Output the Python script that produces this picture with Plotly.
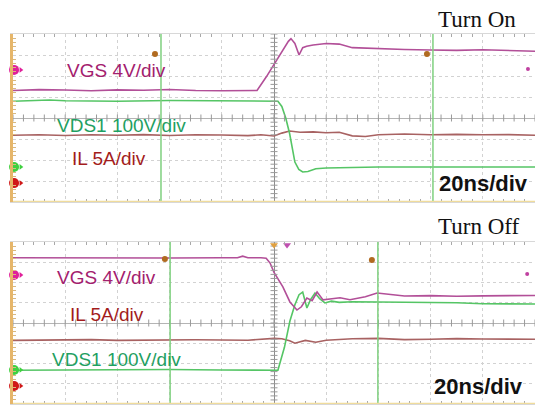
import plotly.graph_objects as go

# ---------------- data (time in ns, amplitude in screen divisions) -------------
# Turn On panel
on_vgs_t = [-100, -90, -80, -70, -60, -50, -40, -30, -20, -10, -6.5, -3, 0, 3, 5.5, 6.5, 8, 9.6, 11, 12.5, 15, 20, 25, 30, 40, 50, 60, 70, 80, 90, 100]
on_vgs_v = [1.31, 1.35, 1.33, 1.30, 1.34, 1.32, 1.36, 1.31, 1.30, 1.31, 1.31, 1.95, 2.55, 3.15, 3.65, 3.78, 3.55, 3.0, 3.35, 3.42, 3.48, 3.55, 3.52, 3.35, 3.30, 3.26, 3.24, 3.22, 3.25, 3.20, 3.18]
on_vds_t = [-100, -86, -80, -60, -40, -20, -10, 0, 1.5, 3, 4.5, 6, 7, 8, 9.5, 11, 13, 16, 20, 30, 40, 60, 80, 100]
on_vds_v = [0.80, 0.86, 0.82, 0.80, 0.83, 0.81, 0.81, 0.81, 0.80, 0.55, 0.0, -0.75, -1.4, -2.1, -2.45, -2.57, -2.55, -2.42, -2.38, -2.36, -2.33, -2.33, -2.32, -2.33]
on_il_t = [-100, -90, -80, -70, -60, -50, -40, -30, -20, -10, -5, 0, 3, 6, 10, 15, 20, 25, 30, 35, 40, 50, 60, 70, 80, 90, 100]
on_il_v = [-0.82, -0.80, -0.83, -0.80, -0.82, -0.79, -0.83, -0.80, -0.81, -0.84, -0.80, -0.86, -0.72, -0.62, -0.68, -0.66, -0.70, -0.68, -0.85, -0.88, -0.80, -0.76, -0.80, -0.78, -0.80, -0.79, -0.82]

# Turn Off panel
off_vgs_t = [-100, -80, -60, -40, -20, -14, -12, -10, -5, -3, -1.5, 0, 3.4, 6.1, 8.8, 10.5, 12.6, 14.6, 16.5, 18.8, 22.2, 25.3, 29.1, 35, 39.5, 44.4, 50, 60, 70, 80, 90, 100]
off_vgs_v = [3.22, 3.21, 3.23, 3.21, 3.22, 3.22, 3.30, 3.22, 3.22, 3.20, 2.96, 2.50, 1.78, 1.04, 0.64, 0.80, 1.23, 1.10, 1.53, 1.14, 1.20, 1.25, 1.15, 1.30, 1.48, 1.40, 1.33, 1.35, 1.32, 1.34, 1.35, 1.36]
off_vds_t = [-100, -80, -60, -40, -20, -5, 0, 1.5, 4, 6.1, 8, 9.6, 11, 12.6, 14, 15.7, 17.5, 19.5, 22, 25, 30, 40, 50, 60, 70, 80, 90, 100]
off_vds_v = [-2.33, -2.31, -2.32, -2.30, -2.32, -2.32, -2.33, -2.33, -1.2, 0.1, 0.9, 1.4, 1.53, 0.74, 1.15, 1.48, 1.2, 0.99, 1.08, 1.02, 1.05, 1.04, 1.03, 1.02, 1.0, 0.95, 0.94, 0.94]
off_il_t = [-100, -90, -80, -70, -60, -50, -40, -30, -20, -10, 0, 3, 6, 8, 12, 16, 20, 25, 30, 40, 50, 60, 70, 80, 90, 100]
off_il_v = [-0.86, -0.84, -0.85, -0.82, -0.86, -0.84, -0.85, -0.83, -0.84, -0.85, -0.76, -0.78, -0.88, -1.0, -0.86, -0.95, -0.85, -0.80, -0.78, -0.76, -0.82, -0.80, -0.77, -0.79, -0.78, -0.80]

# channel reference levels (left-side markers) [VGS, VDS, IL]
on_ref = [2.29, -2.33, -3.10]
off_ref = [2.37, -2.32, -3.11]
# green cursor lines (ns)
on_cursors = [-43.3, 60.9]
off_cursors = [-39.8, 39.8]

labels = ["VGS 4V/div", "VDS1 100V/div", "IL 5A/div"]
timebase = "20ns/div"
titles = ["Turn On", "Turn Off"]

# ---------------- styling -------------
C_VGS, C_VDS, C_IL = "#b24f98", "#55c565", "#a86262"
T_VGS, T_VDS, T_IL = "#a3206e", "#1fa062", "#a31c1c"
REF_COL = ["#e0209a", "#40d040", "#d01818"]
FONT = "Liberation Sans, Arial, sans-serif"

fig = go.Figure()

def add_panel(xa, ya, vgs, vds, il, ref, cursors):
    xr, yr = xa.replace("axis", ""), ya.replace("axis", "")
    for (t, v), col in zip([il, vds, vgs], [C_IL, C_VDS, C_VGS]):
        fig.add_trace(go.Scatter(x=t, y=v, mode="lines", line=dict(color=col, width=1.6),
                                 xaxis=xr, yaxis=yr, showlegend=False, hoverinfo="skip"))
    # centre-line ticks
    tx = [i * 4 - 100 for i in range(51)]
    fig.add_trace(go.Scatter(x=tx, y=[0] * len(tx), mode="markers",
                             marker=dict(symbol="line-ns", size=5, line=dict(color="#9a9a9a", width=1)),
                             xaxis=xr, yaxis=yr, showlegend=False, hoverinfo="skip"))
    ty = [i * 0.2 - 4 for i in range(41)]
    fig.add_trace(go.Scatter(x=[0] * len(ty), y=ty, mode="markers",
                             marker=dict(symbol="line-ew", size=5, line=dict(color="#9a9a9a", width=1)),
                             xaxis=xr, yaxis=yr, showlegend=False, hoverinfo="skip"))
    for c in cursors:
        fig.add_shape(type="line", xref=xr, yref=yr, x0=c, x1=c, y0=-4, y1=4,
                      line=dict(color="#7fd07f", width=1.5))
    fig.add_shape(type="line", xref=xr, yref=yr, x0=-100, x1=100, y0=-4, y1=-4,
                  line=dict(color="#f0dc9c", width=2.5))
    # reference markers at left
    fig.add_trace(go.Scatter(x=[-99.6] * 3, y=ref, mode="markers",
                             marker=dict(symbol="circle", size=10, color=REF_COL),
                             xaxis=xr, yaxis=yr, showlegend=False, hoverinfo="skip", cliponaxis=False))
    fig.add_trace(go.Scatter(x=[-97.0] * 3, y=ref, mode="markers",
                             marker=dict(symbol="triangle-right", size=5, color=REF_COL),
                             xaxis=xr, yaxis=yr, showlegend=False, hoverinfo="skip", cliponaxis=False))

add_panel("xaxis", "yaxis", (on_vgs_t, on_vgs_v), (on_vds_t, on_vds_v), (on_il_t, on_il_v), on_ref, on_cursors)
add_panel("xaxis2", "yaxis2", (off_vgs_t, off_vgs_v), (off_vds_t, off_vds_v), (off_il_t, off_il_v), off_ref, off_cursors)

# small scope markers
fig.add_trace(go.Scatter(x=[-45.6, 58.6], y=[3.05, 3.05], mode="markers",
                         marker=dict(color="#b06a20", size=6), showlegend=False, hoverinfo="skip"))
fig.add_trace(go.Scatter(x=[97.3], y=[2.33], mode="markers",
                         marker=dict(color="#c040a0", size=4), showlegend=False, hoverinfo="skip", cliponaxis=False))
fig.add_trace(go.Scatter(x=[-41.8, 37.5], y=[3.16, 3.11], mode="markers", xaxis="x2", yaxis="y2",
                         marker=dict(color="#b06a20", size=6), showlegend=False, hoverinfo="skip"))
fig.add_trace(go.Scatter(x=[97], y=[2.42], mode="markers", xaxis="x2", yaxis="y2",
                         marker=dict(color="#c040a0", size=4), showlegend=False, hoverinfo="skip", cliponaxis=False))
fig.add_trace(go.Scatter(x=[0, 5], y=[3.85, 3.85], mode="markers", xaxis="x2", yaxis="y2",
                         marker=dict(color=["#e0a040", "#c050b0"], symbol="triangle-down", size=7),
                         showlegend=False, hoverinfo="skip"))

axis_x = dict(range=[-100, 100], showticklabels=False, dtick=20, tick0=-100,
              showgrid=True, gridcolor="#d2d2d2", griddash="dot", gridwidth=1,
              zeroline=True, zerolinecolor="#8c8c8c", zerolinewidth=1,
              showline=True, linecolor="#d8d8d8", mirror="ticks", ticks="inside", ticklen=0,
              minor=dict(dtick=4, ticks="inside", ticklen=3, tickcolor="#a8a8a8", showgrid=False),
              fixedrange=True)
axis_y = dict(range=[-4, 4], showticklabels=False, dtick=1, tick0=-4,
              showgrid=True, gridcolor="#d2d2d2", griddash="dot", gridwidth=1,
              zeroline=True, zerolinecolor="#b4b4b4", zerolinewidth=1,
              showline=True, linecolor="#e6b66a", linewidth=2.5, ticks="inside", ticklen=0,
              minor=dict(dtick=0.2, ticks="inside", ticklen=3, tickcolor="#d8b880", showgrid=False),
              fixedrange=True)

x0 = 13 / 535
fig.update_layout(
    width=535, height=407, margin=dict(l=0, r=0, t=0, b=0),
    paper_bgcolor="white", plot_bgcolor="white",
    xaxis=dict(axis_x, domain=[x0, 1], anchor="y"),
    yaxis=dict(axis_y, domain=[1 - 202 / 407, 1 - 34 / 407], anchor="x"),
    xaxis2=dict(axis_x, domain=[x0, 1], anchor="y2"),
    yaxis2=dict(axis_y, domain=[1 - 404 / 407, 1 - 242 / 407], anchor="x2"),
    font=dict(family=FONT),
)

def lab(x, y, text, color, ax, size=19, bold=False, anchor="left"):
    fig.add_annotation(x=x, y=y, xref=ax[0], yref=ax[1], text=f"<b>{text}</b>" if bold else text,
                       showarrow=False, xanchor=anchor, yanchor="middle",
                       font=dict(family=FONT, size=size, color=color))

A1, A2 = ("x", "y"), ("x2", "y2")
lab(-80, 2.24, labels[0], T_VGS, A1)
lab(-84, -0.38, labels[1], T_VDS, A1)
lab(-78, -1.95, labels[2], T_IL, A1)
lab(98, -3.1, timebase, "#111111", A1, size=22, bold=True, anchor="right")
lab(-84, 2.27, labels[0], T_VGS, A2)
lab(-79, 0.40, labels[2], T_IL, A2)
lab(-86, -1.78, labels[1], T_VDS, A2)
lab(96, -3.16, timebase, "#111111", A2, size=22, bold=True, anchor="right")

for text, xr, yc in [(titles[0], 518 / 535, 1 - 20 / 407), (titles[1], 522 / 535, 1 - 226 / 407)]:
    fig.add_annotation(x=xr, y=yc, xref="paper", yref="paper", text=text, showarrow=False,
                       xanchor="right", yanchor="middle",
                       font=dict(family="Liberation Serif, Times New Roman, serif", size=23, color="#111111"))

fig.write_html("out.html", config={"displayModeBar": False},
               post_script="document.body.style.margin='0px';")
